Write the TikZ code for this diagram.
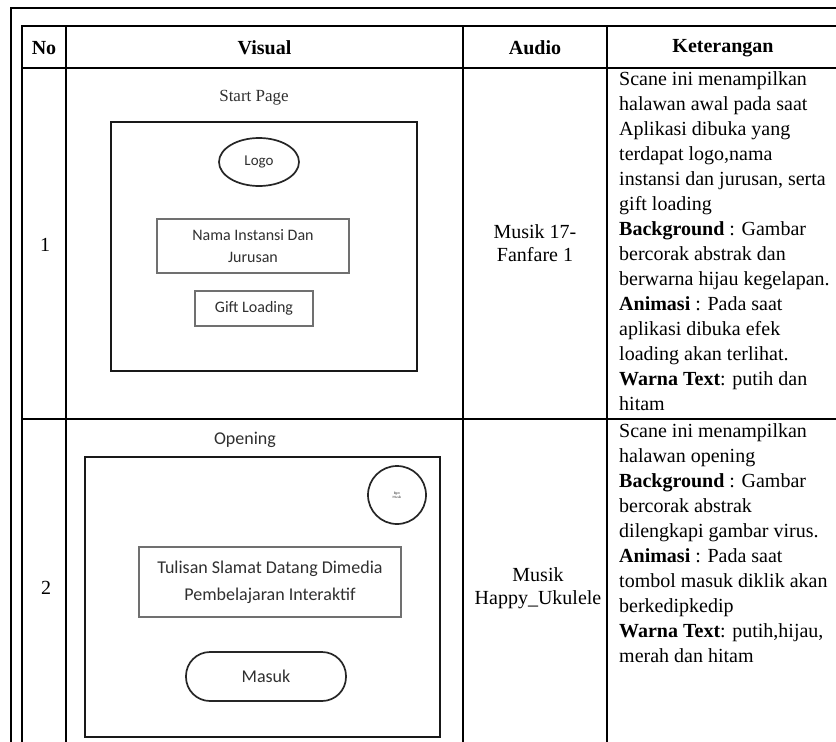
\documentclass[tikz,border=0pt]{standalone}
\usepackage{fontspec}
\setmainfont{Liberation Serif}
\newfontfamily\calibri{Carlito}
\usetikzlibrary{shapes.geometric}
\definecolor{sketchtext}{HTML}{303030}
\definecolor{thinline}{HTML}{707070}
\tikzset{
  tbl/.style={line width=1.4pt, black},
  hdr/.style={font=\fontsize{20}{23}\selectfont\bfseries, inner sep=0pt},
  body/.style={font=\fontsize{20}{23}\selectfont, inner sep=0pt, align=center},
  ket/.style={font=\fontsize{20}{25}\selectfont, inner sep=0pt, align=left, anchor=north west},
  screen/.style={draw=black!90, line width=2.4pt},
  thinbox/.style={draw=thinline, line width=1.2pt, text=sketchtext, align=center, inner sep=0pt},
  roundel/.style={draw=black!85, line width=1.7pt, text=sketchtext, inner sep=0pt},
  sk16/.style={font=\calibri\fontsize{16}{22}\selectfont},
  sk18/.style={font=\calibri\fontsize{18}{27}\selectfont},
}
\begin{document}
\begin{tikzpicture}[x=1pt,y=-1pt]
\useasboundingbox (0,0) rectangle (836,742);
\fill[white] (0,0) rectangle (836,742);
% outer frame
\draw[line width=1.5pt] (11,760) -- (11,8) -- (850,8);
% table grid
\draw[tbl] (22,760) -- (22,26) -- (850,26);
\draw[tbl] (22,68) -- (850,68);
\draw[tbl] (22,419) -- (850,419);
\draw[tbl] (66,26) -- (66,760);
\draw[tbl] (463,26) -- (463,760);
\draw[tbl] (607,26) -- (607,760);
% header
\node[hdr] (hno) at (44,48) {No};
\node[hdr] (hvis) at (264.5,48) {Visual};
\node[hdr] (haud) at (535,48) {Audio};
\node[hdr] (hket) at (723,48) {Keterangan};
% row numbers
\node[body] (n1) at (45,245) {1};
\node[body] (n2) at (46,588) {2};
% row 1 visual
\node[font=\fontsize{17}{20}\selectfont, text=sketchtext, inner sep=0pt] (t1) at (254,98) {Start Page};
\node[screen, minimum width=306pt, minimum height=249pt, inner sep=0pt] (s1) at (264,246.5) {};
\node[roundel, ellipse, minimum width=80pt, minimum height=48pt, font=\calibri\fontsize{15}{18}\selectfont] (logo) at (259,162) {Logo};
\node[thinbox, sk16, minimum width=192pt, minimum height=54pt] (nama) at (253,246) {Nama Instansi Dan\\Jurusan};
\node[thinbox, sk16, minimum width=118pt, minimum height=35pt] (gift) at (254,308.5) {Gift Loading};
% row 2 visual
\node[sk18, text=sketchtext, inner sep=0pt] (t2) at (245,440) {Opening};
\node[screen, minimum width=355pt, minimum height=280pt, inner sep=0pt] (s2) at (262.5,597) {};
\node[roundel, circle, minimum size=58pt, align=center, font=\calibri\fontsize{3.5}{4}\selectfont] (bgm) at (397,495) {Bgm\\Musik};
\node[thinbox, sk18, minimum width=262pt, minimum height=70pt] (tulis) at (270,582) {Tulisan Slamat Datang Dimedia\\Pembelajaran Interaktif};
\node[roundel, rounded corners=24pt, minimum width=160pt, minimum height=49pt, sk18] (masuk) at (266,676.5) {Masuk};
% audio
\node[body] (a1) at (535,243) {Musik 17-\\Fanfare 1};
\node[body] (a2) at (538,588) {Musik\\Happy\_Ukulele};
% keterangan
\node[ket] (k1) at (619,71) {Scane ini menampilkan\\halawan awal pada saat\\Aplikasi dibuka yang\\terdapat logo,nama\\instansi dan jurusan, serta\\gift loading\\\textbf{Background} : Gambar\\bercorak abstrak dan\\berwarna hijau kegelapan.\\\textbf{Animasi} : Pada saat\\aplikasi dibuka efek\\loading akan terlihat.\\\textbf{Warna Text}: putih dan\\hitam};
\node[ket] (k2) at (619,423) {Scane ini menampilkan\\halawan opening\\\textbf{Background} : Gambar\\bercorak abstrak\\dilengkapi gambar virus.\\\textbf{Animasi} : Pada saat\\tombol masuk diklik akan\\berkedipkedip\\\textbf{Warna Text}: putih,hijau,\\merah dan hitam};
\end{tikzpicture}
\end{document}
